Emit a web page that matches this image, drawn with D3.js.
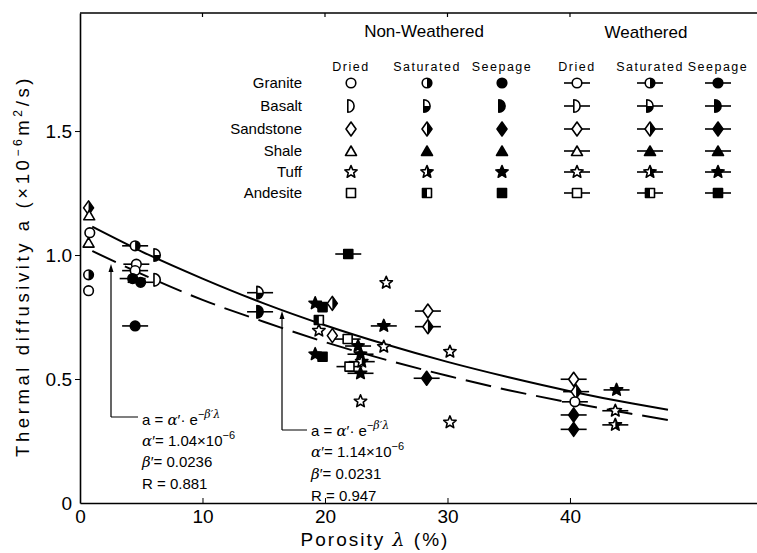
<!DOCTYPE html>
<html>
<head>
<meta charset="utf-8">
<script src="https://cdn.jsdelivr.net/npm/d3@7"></script>
<style>
  body { margin: 0; background: #fff; }
  text { font-family: "Liberation Sans", Arial, sans-serif; fill: #000; }
  .greek { font-family: "DejaVu Serif", serif; font-style: italic; }
</style>
</head>
<body>
<svg width="757" height="553"></svg>
<script>
// ---- data ----
var rocks = ["Granite", "Basalt", "Sandstone", "Shale", "Tuff", "Andesite"];
var conditions = ["Dried", "Saturated", "Seepage"];
var groups = ["Non-Weathered", "Weathered"];
var xTicks = [0, 10, 20, 30, 40];
var yTicks = [0, 0.5, 1.0, 1.5];
var yTickLabels = ["0", "0.5", "1.0", "1.5"];

// [porosity %, diffusivity, rock, condition]
var nonWeathered = [
  [0.7, 1.19, "Sandstone", "Saturated"],
  [0.75, 1.16, "Shale", "Dried"],
  [0.8, 1.09, "Granite", "Dried"],
  [0.7, 1.05, "Shale", "Dried"],
  [0.7, 0.92, "Granite", "Saturated"],
  [0.7, 0.856, "Granite", "Dried"],
  [6.3, 1.0, "Basalt", "Saturated"],
  [6.3, 0.90, "Basalt", "Dried"],
  [25.0, 0.888, "Tuff", "Dried"],
  [19.2, 0.805, "Tuff", "Seepage"],
  [19.8, 0.79, "Andesite", "Seepage"],
  [20.6, 0.805, "Sandstone", "Saturated"],
  [19.5, 0.738, "Andesite", "Saturated"],
  [19.5, 0.695, "Tuff", "Dried"],
  [20.6, 0.675, "Sandstone", "Dried"],
  [19.2, 0.60, "Tuff", "Seepage"],
  [19.8, 0.59, "Andesite", "Seepage"],
  [24.8, 0.63, "Tuff", "Dried"],
  [22.9, 0.41, "Tuff", "Dried"],
  [30.2, 0.61, "Tuff", "Dried"],
  [30.2, 0.325, "Tuff", "Dried"]
];

var weathered = [
  [4.5, 1.037, "Granite", "Saturated"],
  [4.6, 0.963, "Granite", "Dried"],
  [4.5, 0.937, "Granite", "Dried"],
  [4.3, 0.905, "Granite", "Seepage"],
  [4.95, 0.89, "Granite", "Seepage"],
  [4.5, 0.714, "Granite", "Seepage"],
  [14.7, 0.848, "Basalt", "Saturated"],
  [14.7, 0.771, "Basalt", "Seepage"],
  [21.9, 1.004, "Andesite", "Seepage"],
  [21.85, 0.661, "Andesite", "Dried"],
  [22.0, 0.55, "Andesite", "Dried"],
  [22.7, 0.633, "Tuff", "Seepage"],
  [22.9, 0.60, "Tuff", "Seepage"],
  [23.0, 0.57, "Tuff", "Saturated"],
  [22.9, 0.523, "Tuff", "Seepage"],
  [24.8, 0.714, "Tuff", "Seepage"],
  [28.4, 0.774, "Sandstone", "Dried"],
  [28.4, 0.711, "Sandstone", "Saturated"],
  [28.3, 0.503, "Sandstone", "Seepage"],
  [40.3, 0.499, "Sandstone", "Dried"],
  [40.5, 0.449, "Sandstone", "Saturated"],
  [40.4, 0.408, "Granite", "Dried"],
  [40.3, 0.355, "Sandstone", "Seepage"],
  [40.3, 0.297, "Sandstone", "Seepage"],
  [43.8, 0.456, "Tuff", "Seepage"],
  [43.7, 0.372, "Tuff", "Dried"],
  [43.7, 0.315, "Tuff", "Saturated"]
];

// fitted curves, values
var fitPorosity = [1, 5, 10, 15, 20, 25, 30, 35, 40, 45, 48];
var fitUpper = [1.114, 1.015, 0.905, 0.805, 0.717, 0.639, 0.569, 0.507, 0.451, 0.402, 0.376]; // R=0.947
var fitLower = [1.016, 0.924, 0.819, 0.731, 0.649, 0.577, 0.513, 0.455, 0.405, 0.360, 0.335]; // R=0.881

// ---- drawing ----
var svg = d3.select("svg");

var x = d3.scaleLinear().domain([0, 55.3]).range([80, 757.4]),
    y = d3.scaleLinear().domain([0, 1.5]).range([503, 131]);

var defs = svg.append("defs");
defs.append("clipPath").attr("id", "right").append("rect").attr("x", 0).attr("y", -20).attr("width", 20).attr("height", 40);
defs.append("clipPath").attr("id", "left").append("rect").attr("x", -20).attr("y", -20).attr("width", 20).attr("height", 40);
defs.append("clipPath").attr("id", "bottom").append("rect").attr("x", -20).attr("y", 0).attr("width", 40).attr("height", 20);

function star(R, r) {
  var p = [];
  for (var i = 0; i < 10; i++) {
    var ang = -Math.PI / 2 + i * Math.PI / 5, rr = i % 2 ? r : R;
    p.push([rr * Math.cos(ang), rr * Math.sin(ang)]);
  }
  return "M" + p.map(function(d) { return d[0].toFixed(2) + "," + d[1].toFixed(2); }).join("L") + "Z";
}

var shapes = {
  Granite: "M-4.8,0A4.8,4.8 0 1,0 4.8,0A4.8,4.8 0 1,0 -4.8,0Z",
  Basalt: "M-3.2,-6.3A6.3,6.3 0 0,1 -3.2,6.3Z",
  Sandstone: "M0,-7L5,0L0,7L-5,0Z",
  Shale: "M0,-5L5.5,4.5L-5.5,4.5Z",
  Tuff: star(6.5, 2.9),
  Andesite: "M-4.5,-4.5H4.5V4.5H-4.5Z"
};
var halfClip = { Granite: "right", Basalt: "bottom", Sandstone: "right", Shale: null, Tuff: "right", Andesite: "left" };

function marker(g, rock, cond, isWeathered) {
  if (isWeathered) {
    g.append("line").attr("x1", -13).attr("x2", 13)
      .attr("stroke", "#000").attr("stroke-width", 1.6);
  }
  var filled = cond === "Seepage" || (cond === "Saturated" && rock === "Shale");
  g.append("path").attr("d", shapes[rock])
    .attr("fill", filled ? "#000" : "#fff")
    .attr("stroke", "#000").attr("stroke-width", 1.6)
    .attr("stroke-linejoin", "round");
  if (cond === "Saturated" && halfClip[rock]) {
    g.append("path").attr("d", shapes[rock]).attr("fill", "#000")
      .attr("clip-path", "url(#" + halfClip[rock] + ")");
  }
}

// frame
svg.append("line").attr("x1", 80).attr("x2", 757).attr("y1", 13).attr("y2", 13)
  .attr("stroke", "#000").attr("stroke-width", 1.5);
svg.selectAll(".ttick").data(xTicks.slice(1)).enter().append("line")
  .attr("x1", function(d) { return x(d); }).attr("x2", function(d) { return x(d); })
  .attr("y1", 13).attr("y2", 17).attr("stroke", "#000").attr("stroke-width", 1.2);

var xAxis = svg.append("g")
  .attr("transform", "translate(0,503)")
  .call(d3.axisBottom(x).tickValues(xTicks).tickSize(-5).tickSizeOuter(0).tickPadding(7).tickFormat(d3.format("d")));
xAxis.select(".domain").attr("stroke-width", 1.6);
xAxis.selectAll("text").attr("font-size", 19).attr("font-family", "Liberation Sans, Arial, sans-serif").attr("fill", "#000");
xAxis.selectAll(".tick").filter(function(d) { return d === 0; }).select("line").remove();

var yAxis = svg.append("g")
  .attr("transform", "translate(80,0)")
  .call(d3.axisLeft(y.copy().domain([0, 1.976]).range([503, 13])).tickValues(yTicks).tickSize(5).tickSizeOuter(0).tickPadding(3)
    .tickFormat(function(d, i) { return yTickLabels[i]; }));
yAxis.select(".domain").attr("stroke-width", 1.6);
yAxis.selectAll("text").attr("font-size", 19).attr("font-family", "Liberation Sans, Arial, sans-serif").attr("fill", "#000");
yAxis.selectAll(".tick").filter(function(d) { return d === 0; }).select("line").remove();

// axis titles
var xt = svg.append("text").attr("x", 375).attr("y", 546).attr("text-anchor", "middle")
  .attr("font-size", 19).attr("letter-spacing", 2);
xt.append("tspan").text("Porosity  ");
xt.append("tspan").attr("class", "greek").text("λ");
xt.append("tspan").text("  (%)");

var yt = svg.append("text").attr("transform", "translate(29,266) rotate(-90)")
  .attr("text-anchor", "middle").attr("font-size", 18.5).attr("letter-spacing", 3.6);
yt.append("tspan").text("Thermal  diffusivity   a   (×10");
yt.append("tspan").attr("dy", -7).attr("font-size", 12).text("−6");
yt.append("tspan").attr("dy", 7).text("m");
yt.append("tspan").attr("dy", -7).attr("font-size", 12).text("2");
yt.append("tspan").attr("dy", 7).text("/s)");

// fitted curves
var line = d3.line()
  .curve(d3.curveMonotoneX)
  .x(function(d, i) { return x(fitPorosity[i]); })
  .y(function(d) { return y(d); });

svg.append("path").datum(fitUpper).attr("d", line)
  .attr("fill", "none").attr("stroke", "#000").attr("stroke-width", 2);
svg.append("path").datum(fitLower).attr("d", line)
  .attr("fill", "none").attr("stroke", "#000").attr("stroke-width", 2)
  .attr("stroke-dasharray", "26,10");

// points
function plot(data, isWeathered) {
  svg.append("g").selectAll("g").data(data).enter().append("g")
    .attr("transform", function(d) { return "translate(" + x(d[0]) + "," + y(d[1]) + ")"; })
    .each(function(d) { marker(d3.select(this), d[2], d[3], isWeathered); });
}
plot(nonWeathered, false);
plot(weathered, true);

// annotations with arrows
function annotation(ax, tipY, baseY, tx, lines, expo) {
  svg.append("path")
    .attr("d", "M" + ax + "," + baseY + "V" + (tipY + 6) + "M" + ax + "," + baseY + "H" + (tx - 4))
    .attr("fill", "none").attr("stroke", "#000").attr("stroke-width", 1.2);
  svg.append("path").attr("d", "M" + ax + "," + tipY + "l-2.5,8h5z").attr("fill", "#000");
  var t = svg.append("text").attr("x", tx).attr("y", lines[0]).attr("font-size", 15);
  t.append("tspan").text("a = ");
  t.append("tspan").attr("class", "greek").text("α");
  t.append("tspan").text("′· e");
  t.append("tspan").attr("dy", -7).attr("font-size", 11).text("−");
  t.append("tspan").attr("class", "greek").attr("font-size", 11).text("β′λ");
  var t2 = svg.append("text").attr("x", tx).attr("y", lines[1]).attr("font-size", 15);
  t2.append("tspan").attr("class", "greek").text("α");
  t2.append("tspan").text("′= " + expo[0] + "×10");
  t2.append("tspan").attr("dy", -7).attr("font-size", 11).text("−6");
  var t3 = svg.append("text").attr("x", tx).attr("y", lines[2]).attr("font-size", 15);
  t3.append("tspan").attr("class", "greek").text("β");
  t3.append("tspan").text("′= " + expo[1]);
  svg.append("text").attr("x", tx).attr("y", lines[3]).attr("font-size", 15).text("R = " + expo[2]);
}
annotation(111, 264, 417, 142, [425, 446, 467, 489], ["1.04", "0.0236", "0.881"]);
annotation(282, 311, 430, 311, [436, 457, 479, 501], ["1.14", "0.0231", "0.947"]);

// legend
var legRows = [83, 106, 129, 151, 172, 193],
    legCols = [351, 427, 502, 577, 650, 718];

svg.append("text").attr("x", 424).attr("y", 37).attr("text-anchor", "middle").attr("font-size", 17).text(groups[0]);
svg.append("text").attr("x", 646).attr("y", 38).attr("text-anchor", "middle").attr("font-size", 17).text(groups[1]);

groups.forEach(function(gname, gi) {
  conditions.forEach(function(c, ci) {
    svg.append("text").attr("x", legCols[gi * 3 + ci]).attr("y", 71)
      .attr("text-anchor", "middle").attr("font-size", 12.5).attr("letter-spacing", 1.5).text(c);
    rocks.forEach(function(r, ri) {
      var g = svg.append("g").attr("transform", "translate(" + legCols[gi * 3 + ci] + "," + legRows[ri] + ")");
      marker(g, r, c, gi === 1);
    });
  });
});
rocks.forEach(function(r, ri) {
  svg.append("text").attr("x", 302).attr("y", legRows[ri] + 5).attr("text-anchor", "end")
    .attr("font-size", 15).text(r);
});
</script>
</body>
</html>
